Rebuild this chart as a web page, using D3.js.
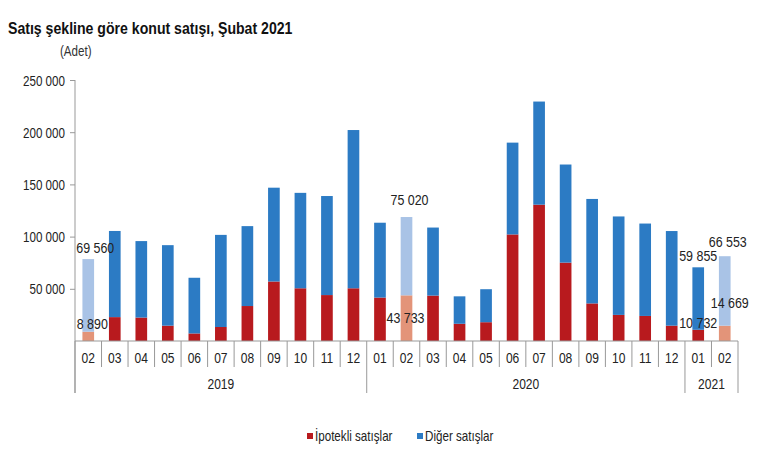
<!DOCTYPE html>
<html><head><meta charset="utf-8">
<script src="https://cdn.jsdelivr.net/npm/d3@7"></script>
<style>
body{margin:0;background:#fff;}
text{font-family:"Liberation Sans Narrow","Arial Narrow","Liberation Sans",Arial,sans-serif;}
</style></head><body>
<svg id="c" width="780" height="470"></svg>
<script>
const months = ["02","03","04","05","06","07","08","09","10","11","12",
                "01","02","03","04","05","06","07","08","09","10","11","12",
                "01","02"];
const years = [{label:"2019", count:11},{label:"2020", count:12},{label:"2021", count:2}];
const mortgage = [8890,22877,22456,14700,7233,13400,33500,57000,50500,44000,50500,
                  41600,43733,43500,16500,18000,102074,130576,75084,36000,25000,24000,14700,
                  10732,14669];
const totals = [78450,105394,95704,91806,60568,101643,110035,146849,141902,138862,202072,
                113294,118753,108670,42783,49607,190012,229357,169043,136069,119300,112500,105326,
                70587,81222];
const other = totals.map((t,i)=>t-mortgage[i]);
const highlight = [0,12,24];
const yTicks = [50000,100000,150000,200000,250000];
const labels = [
  {i:0, series:"other", dx:7, dy:-6},
  {i:0, series:"mortgage", dx:4, dy:-3},
  {i:12, series:"other", dx:3, dy:-12},
  {i:12, series:"mortgage", dx:-1, dy:28},
  {i:23, series:"other", dx:0, dy:-6},
  {i:23, series:"mortgage", dx:0, dy:-2},
  {i:24, series:"other", dx:3, dy:-9},
  {i:24, series:"mortgage", dx:5, dy:-18}
];

const svg = d3.select("#c");
const x0 = 75, x1 = 738, yBase = 341, yTop = 80;
const x = d3.scaleBand().domain(d3.range(months.length)).range([x0,x1]).paddingInner(0.56).paddingOuter(0.28);
const step = (x1-x0)/months.length;
const y = d3.scaleLinear().domain([0,250000]).range([yBase,yTop]);
const fmt = v => d3.format(",")(v).replace(/,/g," ");
const SX = 0.83;
// condense text horizontally (narrow font look)
function narrow(sel){
  sel.each(function(){
    const t = d3.select(this);
    const tx = +t.attr("x")||0, ty = +t.attr("y")||0;
    t.attr("x",0).attr("y",0).attr("transform",`translate(${tx},${ty}) scale(${SX},1)`);
  });
}

const colMort = "#B81A1E", colOther = "#2C7BC4", colMortL = "#E39479", colOtherL = "#A9C3E6";
const isHL = i => highlight.includes(i);

// title
svg.append("text").attr("x",8).attr("y",34).attr("font-size",17).attr("font-weight","bold").attr("fill","#111")
  .text("Satış şekline göre konut satışı, Şubat 2021").call(narrow);
svg.append("text").attr("x",60).attr("y",56).attr("font-size",14).attr("fill","#333").text("(Adet)").call(narrow);

// y axis
const yAxis = d3.axisLeft(y).tickValues(yTicks).tickSize(5).tickFormat(fmt);
const ga = svg.append("g").attr("transform",`translate(${x0},0)`).call(yAxis);
ga.select(".domain").remove();
ga.selectAll(".tick line").attr("stroke","#999");
ga.selectAll(".tick text").attr("font-size",14).attr("fill","#222").attr("x",-10).attr("dy",null).attr("y",5).call(narrow);
svg.append("line").attr("x1",x0).attr("x2",x0).attr("y1",yTop).attr("y2",393).attr("stroke","#999");

// bars
const g = svg.append("g");
g.selectAll(".m").data(mortgage).join("rect")
  .attr("x",(d,i)=>x(i)).attr("width",x.bandwidth())
  .attr("y",d=>y(d)).attr("height",d=>yBase-y(d))
  .attr("fill",(d,i)=>isHL(i)?colMortL:colMort);
g.selectAll(".o").data(other).join("rect")
  .attr("x",(d,i)=>x(i)).attr("width",x.bandwidth())
  .attr("y",(d,i)=>y(d+mortgage[i])).attr("height",(d,i)=>y(mortgage[i])-y(d+mortgage[i]))
  .attr("fill",(d,i)=>isHL(i)?colOtherL:colOther);

// x axis
svg.append("line").attr("x1",x0).attr("x2",x1).attr("y1",yBase).attr("y2",yBase).attr("stroke","#999");
const boundaries = d3.range(months.length+1);
let yrBounds = [0]; years.reduce((a,yr)=>{yrBounds.push(a+yr.count); return a+yr.count;},0);
svg.selectAll(".sep").data(boundaries).join("line")
  .attr("x1",i=>x0+i*step).attr("x2",i=>x0+i*step)
  .attr("y1",yBase).attr("y2",i=>yrBounds.includes(i)?393:367)
  .attr("stroke","#999");
svg.selectAll(".ml").data(months).join("text")
  .attr("x",(d,i)=>x(i)+x.bandwidth()/2).attr("y",363)
  .attr("text-anchor","middle").attr("font-size",14.5).attr("fill","#222").text(d=>d).call(narrow);
svg.selectAll(".yl").data(years).join("text")
  .attr("x",(d,k)=>x0+(yrBounds[k]+d.count/2)*step).attr("y",389)
  .attr("text-anchor","middle").attr("font-size",14.5).attr("fill","#222").text(d=>d.label).call(narrow);

// annotations
svg.selectAll(".ann").data(labels).join("text")
  .attr("x",d=>x(d.i)+x.bandwidth()/2+d.dx)
  .attr("y",d=>{
    const top = d.series==="other" ? y(totals[d.i]) : y(mortgage[d.i]);
    return top + d.dy;
  })
  .attr("text-anchor","middle").attr("font-size",15).attr("fill","#222")
  .text(d=>fmt(d.series==="other"?other[d.i]:mortgage[d.i])).call(narrow);

// legend
const leg = svg.append("g");
const items = [{t:"İpotekli satışlar", c:colMort, x:307},{t:"Diğer satışlar", c:colOther, x:417}];
items.forEach(it=>{
  leg.append("rect").attr("x",it.x).attr("y",433).attr("width",6).attr("height",6).attr("fill",it.c);
  leg.append("text").attr("x",it.x+8).attr("y",441).attr("font-size",14).attr("fill","#222").text(it.t).call(narrow);
});
</script>
</body></html>
